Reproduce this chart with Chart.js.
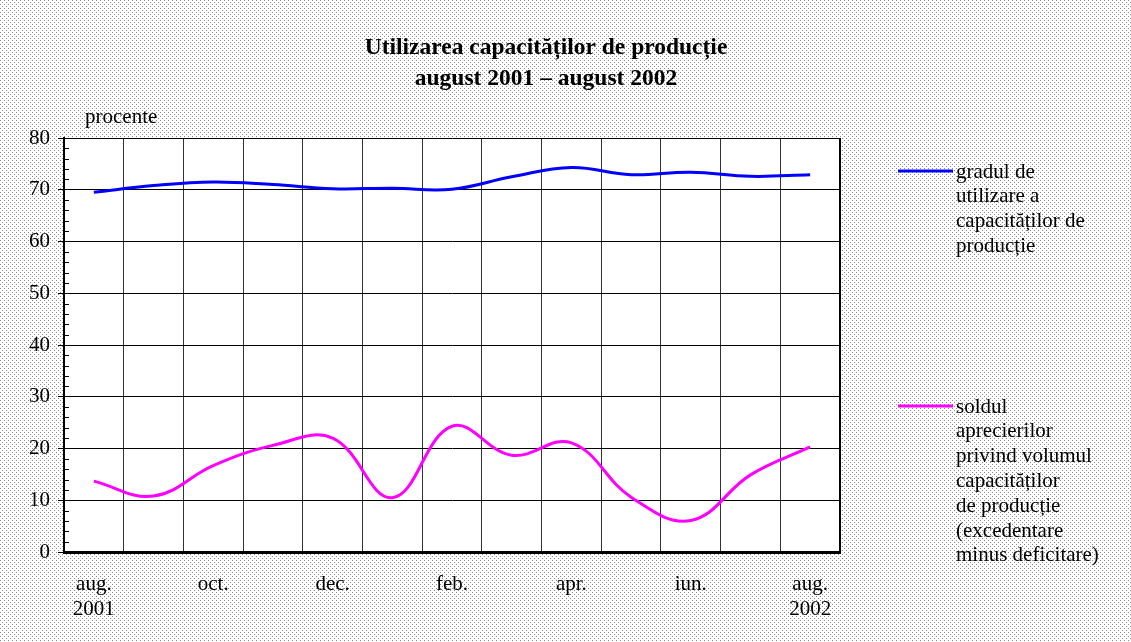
<!DOCTYPE html>
<html>
<head>
<meta charset="utf-8">
<script src="https://cdn.jsdelivr.net/npm/chart.js@4/dist/chart.umd.min.js"></script>
<style>
  html, body { margin: 0; padding: 0; background: #fff; }
  #chart { display: block; }
</style>
</head>
<body>
<canvas id="chart" width="1131" height="642"></canvas>
<script>
/**
 * Utilizarea capacităților de producție, aug. 2001 - aug. 2002
 */

const MONTHS = ['aug. 2001', 'sep.', 'oct.', 'nov.', 'dec.', 'ian.', 'feb.', 'mar.', 'apr.', 'mai', 'iun.', 'iul.', 'aug. 2002'];
const X_TICK_LABELS = [['aug.', '2001'], '', 'oct.', '', 'dec.', '', 'feb.', '', 'apr.', '', 'iun.', '', ['aug.', '2002']];
const Y_TICKS = [0, 10, 20, 30, 40, 50, 60, 70, 80];

const UTILIZARE = [69.5, 70.8, 71.5, 71.0, 70.2, 70.3, 70.1, 72.5, 74.3, 72.9, 73.4, 72.6, 72.9];
const SOLDUL = [13.7, 10.8, 16.7, 20.6, 22.0, 10.5, 24.3, 18.7, 21.1, 10.6, 6.1, 14.9, 20.3];

const TITLE_LINES = ['Utilizarea capacităților de producție', 'august 2001 – august 2002'];
const UNIT_LABEL = 'procente';
const LEGEND_UTILIZARE = ['gradul de', 'utilizare a', 'capacităților de', 'producție'];
const LEGEND_SOLDUL = ['soldul', 'aprecierilor', 'privind volumul', 'capacităților', 'de producție', '(excedentare', 'minus deficitare)'];

const COLORS = {
  blue: '#0000ff',
  magenta: '#ff00ff',
  text: '#000000',
  grid: '#000000',
  dots: '#8a8a8a',
};

const FONT = "'Liberation Serif', 'Times New Roman', serif";

/** dotted background tile */
function makeDotPattern(ctx) {
  const tile = document.createElement('canvas');
  tile.width = 4;
  tile.height = 4;
  const t = tile.getContext('2d');
  t.fillStyle = '#ffffff';
  t.fillRect(0, 0, 4, 4);
  t.fillStyle = COLORS.dots;
  t.fillRect(0, 0, 1, 1);
  t.fillRect(2, 2, 1, 1);
  return ctx.createPattern(tile, 'repeat');
}

const backgroundPlugin = {
  id: 'dottedBackground',
  beforeDraw(chart) {
    const { ctx, chartArea: a } = chart;
    ctx.save();
    ctx.fillStyle = makeDotPattern(ctx);
    ctx.fillRect(0, 0, chart.width, chart.height);
    ctx.fillStyle = '#ffffff';
    ctx.fillRect(a.left, a.top, a.right - a.left, a.bottom - a.top);
    ctx.restore();
  },
};

const decorPlugin = {
  id: 'decor',
  afterDraw(chart) {
    const { ctx, chartArea: a } = chart;
    const y = chart.scales.y;
    ctx.save();

    // frame right side
    ctx.strokeStyle = '#000';
    ctx.lineWidth = 2;
    ctx.beginPath();
    ctx.moveTo(a.right, a.top);
    ctx.lineTo(a.right, a.bottom);
    ctx.stroke();

    // minor ticks inside the y axis
    ctx.lineWidth = 1;
    for (let v = 0; v <= 80; v += 2) {
      if (v % 10 === 0) continue;
      const py = Math.round(y.getPixelForValue(v)) + 0.5;
      ctx.beginPath();
      ctx.moveTo(a.left, py);
      ctx.lineTo(a.left + 5, py);
      ctx.stroke();
    }

    // title
    ctx.fillStyle = COLORS.text;
    ctx.textAlign = 'center';
    ctx.textBaseline = 'middle';
    ctx.font = 'bold 23.5px ' + FONT;
    ctx.fillText(TITLE_LINES[0], 546, 48);
    ctx.fillText(TITLE_LINES[1], 546, 79);

    // unit label
    ctx.font = '21px ' + FONT;
    ctx.textAlign = 'left';
    ctx.fillText(UNIT_LABEL, 85, 117);

    // legend
    const drawEntry = (lines, color, y0) => {
      ctx.strokeStyle = color;
      ctx.lineWidth = 3;
      ctx.beginPath();
      ctx.moveTo(898, y0);
      ctx.lineTo(953, y0);
      ctx.stroke();
      ctx.fillStyle = COLORS.text;
      lines.forEach((l, i) => ctx.fillText(l, 956, y0 + 1 + i * 24.8));
    };
    drawEntry(LEGEND_UTILIZARE, COLORS.blue, 171);
    drawEntry(LEGEND_SOLDUL, COLORS.magenta, 406);

    ctx.restore();
  },
};

function renderChart() {
  const canvas = document.getElementById('chart');
  new Chart(canvas, {
    type: 'line',
    data: {
      labels: MONTHS,
      datasets: [
        {
          label: 'gradul de utilizare a capacităților de producție',
          data: UTILIZARE,
          borderColor: COLORS.blue,
          borderWidth: 3,
          pointRadius: 0,
          tension: 0.4,
          fill: false,
        },
        {
          label: 'soldul aprecierilor privind volumul capacităților de producție (excedentare minus deficitare)',
          data: SOLDUL,
          borderColor: COLORS.magenta,
          borderWidth: 3,
          pointRadius: 0,
          tension: 0.4,
          fill: false,
        },
      ],
    },
    options: {
      responsive: false,
      animation: false,
      layout: { padding: { left: 0, right: 291, top: 138, bottom: 0 } },
      plugins: {
        legend: { display: false },
        title: { display: false },
        tooltip: { enabled: false },
      },
      scales: {
        x: {
          type: 'category',
          offset: true,
          grid: { offset: true, color: '#333', lineWidth: 1, drawTicks: false },
          border: { color: '#000', width: 3 },
          ticks: {
            autoSkip: false,
            maxRotation: 0,
            padding: 20,
            color: COLORS.text,
            font: { family: FONT, size: 21, lineHeight: 1.19 },
            callback: (v, i) => X_TICK_LABELS[i],
          },
          afterFit: (s) => { s.height = 90; },
        },
        y: {
          min: 0,
          max: 80,
          afterBuildTicks: (s) => { s.ticks = Y_TICKS.map((v) => ({ value: v })); },
          grid: { color: COLORS.grid, lineWidth: 1, tickLength: 6 },
          border: { color: '#000', width: 2 },
          ticks: {
            padding: 8,
            color: COLORS.text,
            font: { family: FONT, size: 21 },
          },
          afterFit: (s) => { s.width = 64; },
        },
      },
    },
    plugins: [backgroundPlugin, decorPlugin],
  });
}

renderChart();
</script>
</body>
</html>
